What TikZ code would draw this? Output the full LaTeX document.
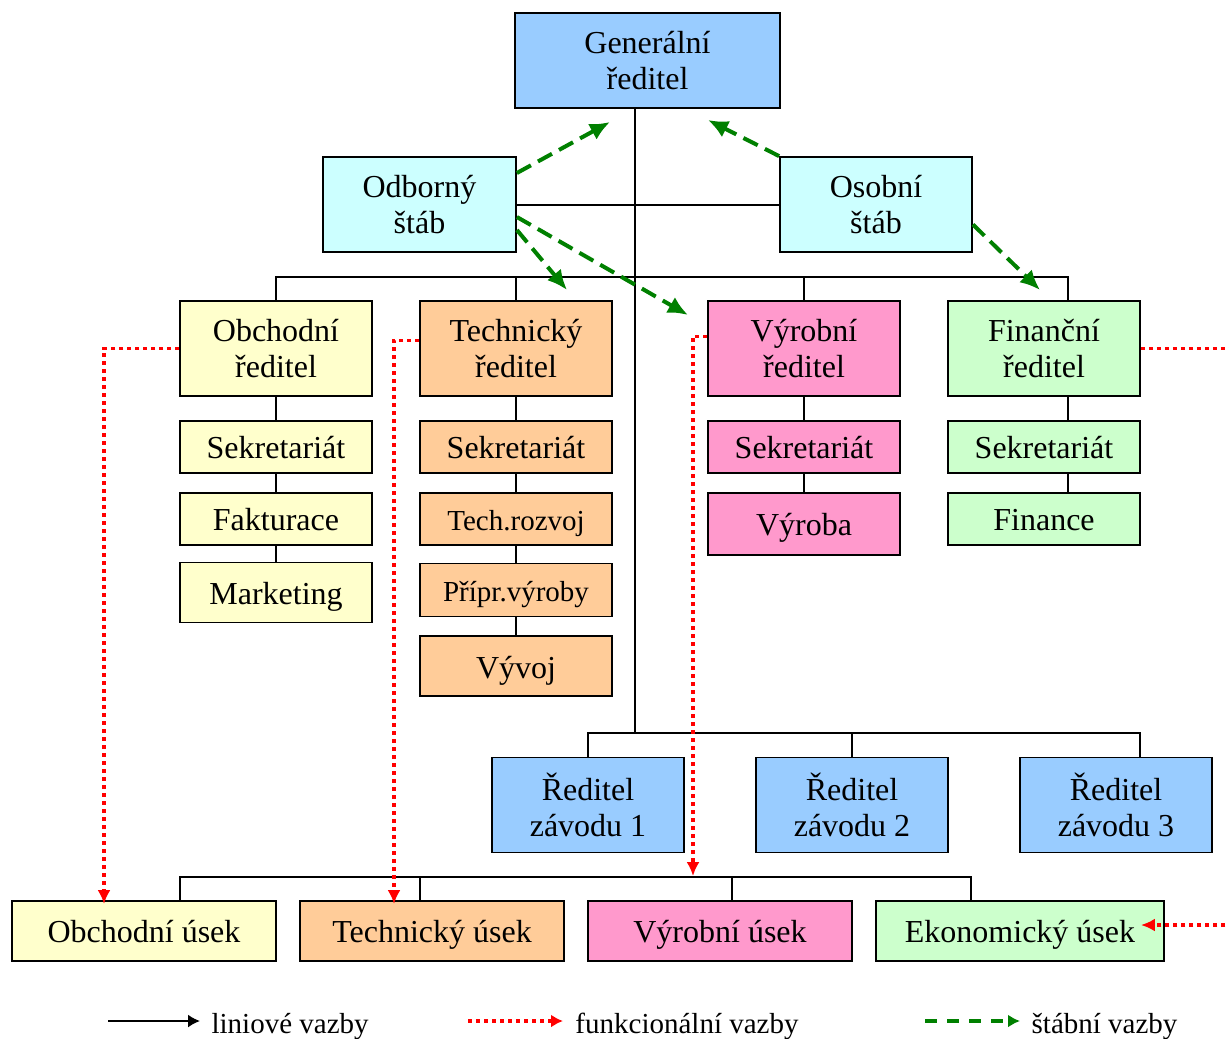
\documentclass[tikz,border=0pt]{standalone}
\usepackage{fontspec}
\setmainfont{Liberation Serif}
\usetikzlibrary{arrows.meta,positioning}

\definecolor{modra}{HTML}{99CCFF}
\definecolor{tyrkys}{HTML}{CCFFFF}
\definecolor{zluta}{HTML}{FFFFCC}
\definecolor{oranz}{HTML}{FFCC99}
\definecolor{ruzova}{HTML}{FF99CC}
\definecolor{zelenka}{HTML}{CCFFCC}
\definecolor{zelena}{HTML}{008000}

\tikzset{
  box/.style={draw,line width=0.9pt,inner sep=0pt,align=center,
    font=\fontsize{16}{18}\selectfont,minimum width=96pt,minimum height=47.5pt},
  sub/.style={box,minimum height=26pt,text height=12pt,text depth=0pt},
  usek/.style={box,minimum width=132pt,minimum height=30pt,text height=11pt,text depth=0pt},
  mensi/.style={font=\fontsize{14.5}{16}\selectfont},
  linie/.style={line width=0.9pt},
  funk/.style={red,line width=1.8pt,dash pattern=on 2pt off 2pt,-{Latex[length=7pt,width=6.5pt]}},
  stab/.style={zelena,line width=2pt,dash pattern=on 8pt off 4pt,-{Latex[length=10pt,width=9pt]}},
}

\begin{document}
\begin{tikzpicture}[x=0.5pt,y=-0.5pt]
  \useasboundingbox (0,0) rectangle (1229,1038);
  \clip (0,0) rectangle (1229,1038);

  % vedeni
  \node[box,fill=modra,minimum width=132.5pt] (gen) at (647.5,60.5) {Generální\\ředitel};
  \node[box,fill=tyrkys,minimum width=96.5pt] (odb) at (419.5,204.5) {Odborný\\štáb};
  \node[box,fill=tyrkys] (oso) at (876,204.5) {Osobní\\štáb};

  % reditele useku
  \node[box,fill=zluta]   (obr) at (276,348.5)  {Obchodní\\ředitel};
  \node[box,fill=oranz]   (tr)  at (516,348.5)  {Technický\\ředitel};
  \node[box,fill=ruzova]  (vr)  at (804,348.5)  {Výrobní\\ředitel};
  \node[box,fill=zelenka] (fr)  at (1044,348.5) {Finanční\\ředitel};

  \node[sub,fill=zluta,below=11.5pt of obr] (obs) {Sekretariát};
  \node[sub,fill=zluta,below=9pt of obs]    (obf) {Fakturace};
  \node[sub,fill=zluta,below=8pt of obf,minimum height=30pt] (obm) {Marketing};

  \node[sub,fill=oranz,below=11.5pt of tr]    (ts)  {Sekretariát};
  \node[sub,fill=oranz,mensi,below=9pt of ts] (trz) {Tech.rozvoj};
  \node[sub,fill=oranz,mensi,below=8.5pt of trz,minimum height=26.5pt] (tpv) {Přípr.výroby};
  \node[sub,fill=oranz,below=9pt of tpv,minimum height=30pt] (tvv) {Vývoj};

  \node[sub,fill=ruzova,below=11.5pt of vr] (vs) {Sekretariát};
  \node[sub,fill=ruzova,below=9pt of vs,minimum height=31pt] (vv) {Výroba};

  \node[sub,fill=zelenka,below=11.5pt of fr] (fs) {Sekretariát};
  \node[sub,fill=zelenka,below=9pt of fs]    (ff) {Finance};

  % zavody
  \node[box,fill=modra] (z1) at (588,805)  {Ředitel\\závodu 1};
  \node[box,fill=modra] (z2) at (852,805)  {Ředitel\\závodu 2};
  \node[box,fill=modra] (z3) at (1116,805) {Ředitel\\závodu 3};

  % useky
  \node[usek,fill=zluta]   (u1) at (144,931) {Obchodní úsek};
  \node[usek,fill=oranz]   (u2) at (432,931) {Technický úsek};
  \node[usek,fill=ruzova]  (u3) at (720,931) {Výrobní úsek};
  \node[usek,fill=zelenka,minimum width=144pt] (u4) at (1020,931) {Ekonomický úsek};

  % liniove vazby
  \coordinate (kmen) at (635,733);
  \coordinate (bus1) at (0,277);
  \coordinate (bus3) at (0,877);
  \coordinate (f1) at ([xshift=12pt]fr.north);
  \coordinate (z3a) at ([xshift=12pt]z3.north);
  \coordinate (u1a) at ([xshift=18pt]u1.north);
  \coordinate (u4a) at ([xshift=-24.5pt]u4.north);
  \draw[linie] (gen.south -| kmen) -- (kmen);
  \draw[linie] ([yshift=-0.25pt]odb.east) -- ([yshift=-0.25pt]oso.west);
  \draw[linie] (obr.north) -- (obr.north |- bus1) -| (f1);
  \draw[linie] (tr.north) -- (tr.north |- bus1);
  \draw[linie] (vr.north) -- (vr.north |- bus1);
  \draw[linie] (obr) -- (obs) -- (obf) -- (obm);
  \draw[linie] (tr) -- (ts) -- (trz) -- (tpv) -- (tvv);
  \draw[linie] (vr) -- (vs) -- (vv);
  \draw[linie] ([xshift=12pt]fr.south) -- ([xshift=12pt]fs.north);
  \draw[linie] ([xshift=12pt]fs.south) -- ([xshift=12pt]ff.north);
  \draw[linie] (z1.north) |- (z3a |- kmen) -- (z3a);
  \draw[linie] (z2.north) -- (z2.north |- kmen);
  \draw[linie] (u1a) |- (u4a |- bus3) -- (u4a);
  \draw[linie] ([xshift=-6pt]u2.north) -- ++(0,-24);
  \draw[linie] ([xshift=6pt]u3.north) -- ++(0,-24);

  % funkcionalni vazby
  \draw[funk] (obr.west) -| ([xshift=-20pt,yshift=-2pt]u1.north);
  \draw[funk] ([yshift=4pt]tr.west) -| ([xshift=-19pt,yshift=-2pt]u2.north);
  \draw[funk] ([yshift=6pt]vr.west) -| ([xshift=-13.5pt,yshift=12pt]u3.north);
  \draw[funk] (fr.east) -- ++(110,0) |- ([xshift=-12pt,yshift=3pt]u4.east);

  % stabni vazby
  \coordinate (s1) at (610,122);
  \coordinate (s2) at (708,120);
  \coordinate (s3) at (567,290);
  \coordinate (s4) at (688,315);
  \coordinate (s5) at (1040,290);
  \draw[stab] ([yshift=15.75pt]odb.east) -- (s1);
  \draw[stab] (oso.north west) -- (s2);
  \draw[stab] ([yshift=-12.75pt]odb.east) -- (s3);
  \draw[stab] ([yshift=-6.25pt]odb.east) -- (s4);
  \draw[stab] ([yshift=-10pt]oso.east) -- (s5);

  % legenda
  \coordinate (l1) at (108,1021);
  \coordinate (l2) at (468,1021);
  \coordinate (l3) at (925,1021);
  \draw[linie,-{Latex[length=6pt,width=6.5pt]}] (l1) -- +(92,0)
    node[mensi,anchor=base west,xshift=2pt,yshift=-6pt,black] (t1) {liniové vazby};
  \draw[funk,-{Latex[length=6pt,width=6.5pt]}] (l2) -- +(95,0)
    node[mensi,anchor=base west,xshift=2pt,yshift=-6pt,black] (t2) {funkcionální vazby};
  \draw[stab,dash pattern=on 6pt off 5pt,-{Latex[length=6pt,width=6.5pt]}] (l3) -- +(95,0)
    node[mensi,anchor=base west,xshift=1.5pt,yshift=-6pt,black] (t3) {štábní vazby};
\end{tikzpicture}
\end{document}
